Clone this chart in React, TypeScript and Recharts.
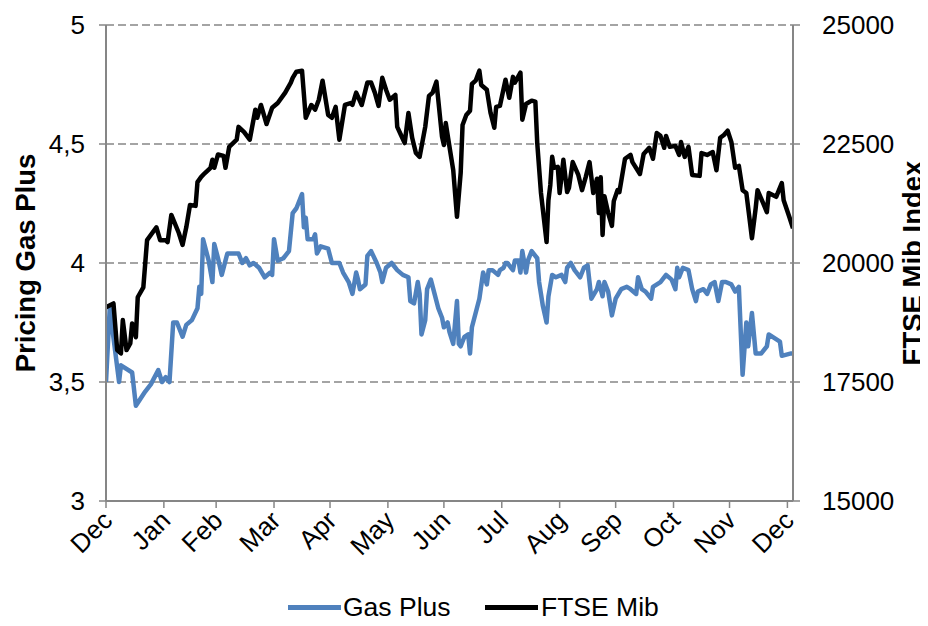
import React from 'react';
import { LineChart, Line, XAxis, YAxis, CartesianGrid, Legend } from 'recharts';

const FONT = '"Liberation Sans", Arial, sans-serif';

// x axis: day index counted from 1 December
const monthTicks = [0, 31, 59, 90, 120, 151, 181, 212, 243, 273, 304, 334, 365];
const monthLabels = ['Dec', 'Jan', 'Feb', 'Mar', 'Apr', 'May', 'Jun', 'Jul', 'Aug', 'Sep', 'Oct', 'Nov', 'Dec'];
const gasTicks = [3, 3.5, 4, 4.5, 5];
const ftseTicks = [15000, 17500, 20000, 22500, 25000];

// [day, price]
const gasPoints: [number, number][] = [
  [0, 3.5], [2, 3.81], [7, 3.5], [8, 3.57], [14, 3.54], [16, 3.4], [21, 3.46], [24, 3.49], [28, 3.55], [30, 3.5],
  [32, 3.52], [34, 3.5], [36, 3.75], [38, 3.75], [41, 3.69], [43, 3.74], [46, 3.76], [49, 3.81], [50, 3.9], [51, 3.87],
  [52, 4.1], [55, 4.01], [57, 3.92], [58, 4.08], [60, 4.02], [62, 3.95], [64, 4.01], [65, 4.04], [69, 4.04], [71, 4.04],
  [73, 4.0], [75, 4.02], [77, 3.99], [79, 4.0], [82, 3.98], [85, 3.94], [88, 3.96], [89, 3.95], [90, 4.1], [92, 4.01],
  [95, 4.02], [98, 4.05], [100, 4.21], [102, 4.23], [105, 4.29], [106, 4.15], [107, 4.19], [108, 4.1], [111, 4.1], [112, 4.12],
  [113, 4.04], [115, 4.07], [119, 4.06], [121, 4.0], [125, 4.0], [127, 3.96], [130, 3.92], [132, 3.87], [134, 3.96], [135, 3.93],
  [136, 3.89], [139, 3.91], [140, 4.03], [142, 4.05], [145, 4.0], [147, 3.96], [148, 3.92], [150, 3.98], [153, 4.0], [156, 3.97],
  [159, 3.95], [162, 3.94], [163, 3.84], [165, 3.83], [167, 3.92], [168, 3.87], [169, 3.7], [171, 3.76], [172, 3.89], [174, 3.93],
  [176, 3.87], [178, 3.81], [180, 3.77], [181, 3.73], [183, 3.75], [184, 3.71], [186, 3.66], [188, 3.84], [189, 3.66], [190, 3.65],
  [192, 3.69], [194, 3.7], [195, 3.62], [196, 3.73], [198, 3.79], [200, 3.85], [202, 3.96], [204, 3.91], [205, 3.97], [207, 3.97],
  [210, 3.95], [211, 3.97], [213, 3.98], [214, 4.0], [215, 4.0], [216, 3.99], [217, 3.98], [218, 3.97], [219, 4.01], [221, 4.01],
  [222, 3.96], [223, 4.05], [225, 3.96], [226, 4.01], [228, 4.05], [231, 4.02], [232, 3.92], [234, 3.82], [236, 3.75], [237, 3.86],
  [239, 3.95], [241, 3.94], [244, 3.95], [246, 3.92], [247, 3.98], [249, 4.0], [251, 3.97], [254, 3.94], [256, 3.98], [258, 3.99],
  [260, 3.85], [263, 3.89], [264, 3.92], [266, 3.86], [267, 3.92], [269, 3.88], [271, 3.78], [273, 3.85], [276, 3.89], [279, 3.9],
  [281, 3.89], [284, 3.87], [285, 3.94], [287, 3.89], [289, 3.88], [292, 3.85], [293, 3.9], [297, 3.92], [300, 3.95], [303, 3.93],
  [305, 3.89], [306, 3.98], [307, 3.94], [309, 3.98], [312, 3.97], [314, 3.89], [316, 3.84], [317, 3.88], [320, 3.89], [322, 3.87],
  [324, 3.91], [326, 3.92], [328, 3.84], [330, 3.92], [332, 3.92], [335, 3.91], [337, 3.88], [339, 3.9], [341, 3.53], [343, 3.75],
  [344, 3.65], [346, 3.79], [348, 3.62], [351, 3.62], [354, 3.65], [355, 3.7], [361, 3.67], [362, 3.61], [367, 3.62], [368, 3.62],
];

// [day, index level]
const ftsePoints: [number, number][] = [
  [0, 19070], [4, 19150], [6, 18170], [8, 18100], [9, 18800], [11, 18170], [13, 18310], [14, 18730], [16, 18440], [17, 19280],
  [20, 19490], [22, 20480], [27, 20750], [29, 20480], [32, 20480], [33, 20440], [35, 21010], [39, 20630], [41, 20380], [43, 20750],
  [45, 21220], [48, 21200], [49, 21700], [51, 21810], [53, 21890], [56, 22000], [57, 22170], [58, 22000], [60, 22280], [63, 22250],
  [64, 22000], [66, 22440], [70, 22590], [71, 22860], [74, 22750], [77, 22590], [80, 23220], [81, 23050], [83, 23320], [86, 22920],
  [89, 23260], [92, 23360], [96, 23580], [99, 23790], [100, 23890], [102, 24020], [105, 24040], [107, 23050], [110, 23320], [112, 23220],
  [114, 23430], [116, 23830], [119, 23110], [121, 23050], [123, 23280], [125, 22590], [128, 23320], [131, 23360], [132, 23320], [134, 23580],
  [137, 23320], [140, 23790], [142, 23790], [144, 23580], [146, 23300], [148, 23890], [150, 23640], [152, 23430], [155, 23530], [156, 22860],
  [158, 22690], [160, 22520], [162, 23150], [164, 22630], [166, 22310], [168, 22230], [171, 22860], [173, 23510], [175, 23580], [177, 23810],
  [180, 22650], [181, 22480], [182, 22940], [184, 22440], [186, 21950], [188, 20970], [190, 21900], [191, 22900], [193, 23110], [195, 23200],
  [196, 23760], [198, 23830], [200, 24040], [201, 23740], [204, 23640], [206, 23150], [208, 22840], [209, 23280], [211, 23300], [214, 23850],
  [216, 23470], [218, 23910], [219, 23790], [222, 24000], [223, 23010], [225, 23340], [228, 23410], [230, 23390], [231, 22520], [233, 21470],
  [236, 20440], [237, 21320], [238, 21640], [239, 22230], [240, 22000], [242, 22020], [243, 21470], [245, 22170], [247, 21490], [248, 21580],
  [250, 22120], [253, 21850], [255, 21530], [257, 21810], [259, 22120], [261, 21470], [263, 21770], [264, 21050], [265, 21800], [266, 20590],
  [267, 21400], [269, 21050], [271, 20780], [272, 21300], [274, 21530], [275, 21490], [278, 22190], [281, 22270], [282, 22120], [286, 21870],
  [288, 22290], [291, 22420], [293, 22190], [295, 22730], [297, 22670], [299, 22420], [300, 22670], [302, 22440], [305, 22460], [307, 22270],
  [308, 22540], [310, 22230], [312, 22440], [314, 21850], [318, 21830], [319, 22310], [322, 22270], [325, 22330], [327, 21950], [329, 22630],
  [331, 22690], [333, 22780], [335, 22540], [337, 22000], [339, 22040], [341, 21530], [343, 21470], [345, 20840], [346, 20520], [348, 21150],
  [349, 21530], [352, 21260], [354, 21070], [355, 21470], [359, 21390], [362, 21680], [363, 21320], [366, 20970], [368, 20730],
];

const gasData = gasPoints.map(([day, v]) => ({ day, gas: v }));
const ftseData = ftsePoints.map(([day, v]) => ({ day, ftse: v }));

const AXIS_GRAY = '#868686';
const TICK_FONT = 26;
const TITLE_FONT = 27.5;

const MonthTick = (props: any) => {
  const { x, y, payload } = props;
  const idx = monthTicks.indexOf(payload.value);
  const ax = x + 8;
  const ay = y + 12;
  return (
    <text
      x={ax}
      y={ay}
      textAnchor="end"
      fontSize={TICK_FONT}
      fontFamily={FONT}
      fill="#000"
      transform={`rotate(-45 ${ax} ${ay})`}
    >
      {monthLabels[idx]}
    </text>
  );
};

const makeTitle = (text: string, dx: number) => (p: any) => {
  const vb = p.viewBox || { x: 0, y: 0, width: 0, height: 0 };
  const cx = vb.x + dx;
  const cy = vb.y + vb.height / 2;
  return (
    <text
      x={cx}
      y={cy}
      dy="0.35em"
      textAnchor="middle"
      fontSize={TITLE_FONT}
      fontWeight="bold"
      fontFamily={FONT}
      fill="#000"
      transform={`rotate(-90 ${cx} ${cy})`}
    >
      {text}
    </text>
  );
};

const legendItems = [
  { name: 'Gas Plus', color: '#4F81BD', lineLeft: 288, textLeft: 343 },
  { name: 'FTSE Mib', color: '#000000', lineLeft: 485, textLeft: 541 },
];

const renderLegend = () => (
  <div style={{ position: 'relative', width: 928, height: 26, fontFamily: FONT, fontSize: 26.5, color: '#000' }}>
    {legendItems.map((it) => (
      <React.Fragment key={it.name}>
        <div style={{ position: 'absolute', left: it.lineLeft, top: 11, width: 53, height: 5, background: it.color }} />
        <span style={{ position: 'absolute', left: it.textLeft, top: 0, lineHeight: '26px', whiteSpace: 'nowrap' }}>{it.name}</span>
      </React.Fragment>
    ))}
  </div>
);

export default function App() {
  return (
    <div style={{ width: 928, height: 610, marginLeft: -8, fontFamily: FONT }}>
      <LineChart width={928} height={610} margin={{ top: 17, right: 0, bottom: 0, left: 0 }}>
        <CartesianGrid yAxisId="left" vertical={false} stroke={AXIS_GRAY} strokeDasharray="8 4" strokeWidth={1.5} />
        <XAxis
          dataKey="day"
          type="number"
          domain={[0, 368]}
          allowDataOverflow
          ticks={monthTicks}
          interval={0}
          tick={MonthTick}
          tickSize={7}
          height={91}
          axisLine={{ stroke: AXIS_GRAY, strokeWidth: 2 }}
          tickLine={{ stroke: AXIS_GRAY, strokeWidth: 1.5 }}
        />
        <YAxis
          yAxisId="left"
          domain={[3, 5]}
          ticks={gasTicks}
          interval={0}
          width={106}
          tickSize={7}
          tickMargin={14}
          tickFormatter={(v: number) => String(v).replace('.', ',')}
          tick={{ fill: '#000', fontSize: TICK_FONT, fontFamily: FONT }}
          axisLine={{ stroke: AXIS_GRAY, strokeWidth: 2 }}
          tickLine={{ stroke: AXIS_GRAY, strokeWidth: 1.5 }}
          label={{ content: makeTitle('Pricing Gas Plus', 25) }}
        />
        <YAxis
          yAxisId="right"
          orientation="right"
          domain={[15000, 25000]}
          ticks={ftseTicks}
          interval={0}
          width={135}
          tickSize={7}
          tickMargin={22}
          tick={{ fill: '#000', fontSize: TICK_FONT, fontFamily: FONT }}
          axisLine={{ stroke: AXIS_GRAY, strokeWidth: 2 }}
          tickLine={{ stroke: AXIS_GRAY, strokeWidth: 1.5 }}
          label={{ content: makeTitle('FTSE Mib Index', 119) }}
        />
        <Line
          yAxisId="left"
          data={gasData}
          dataKey="gas"
          name="Gas Plus"
          type="linear"
          stroke="#4F81BD"
          strokeWidth={4.5}
          strokeLinejoin="round"
          dot={false}
          isAnimationActive={false}
        />
        <Line
          yAxisId="right"
          data={ftseData}
          dataKey="ftse"
          name="FTSE Mib"
          type="linear"
          stroke="#000000"
          strokeWidth={4.5}
          strokeLinejoin="round"
          dot={false}
          isAnimationActive={false}
        />
        <Legend content={renderLegend} height={26} wrapperStyle={{ top: 586, bottom: 'auto', left: 0 }} />
      </LineChart>
    </div>
  );
}
